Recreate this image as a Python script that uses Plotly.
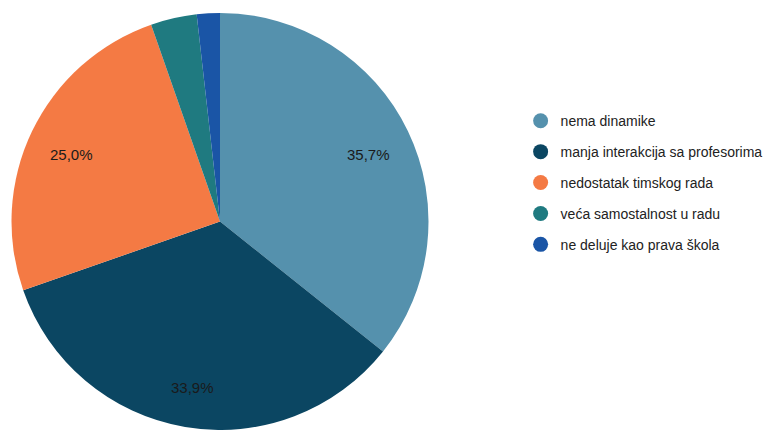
import math
import plotly.graph_objects as go

categories = ["nema dinamike", "manja interakcija sa profesorima", "nedostatak timskog rada",
              "veća samostalnost u radu", "ne deluje kao prava škola"]
values = [20, 19, 14, 2, 1]
colors = ["#5591AD", "#0B4662", "#F47A44", "#1F7A80", "#1A55A6"]
show_label = [True, True, True, False, False]

W, H = 769, 430
MT = 13
plot_h = H - MT
cx_px = 220.0
R = plot_h / 2.0

fig = go.Figure()
fig.add_trace(go.Pie(
    labels=categories, values=values, sort=False, direction="clockwise", rotation=0,
    marker=dict(colors=colors, line=dict(width=0)),
    textinfo="none",
    showlegend=False, hoverinfo="label+percent",
    domain=dict(x=[(cx_px - R) / W, (cx_px + R) / W], y=[0, 1]),
))
for name, col in zip(categories, colors):
    fig.add_trace(go.Scatter(x=[None], y=[None], mode="markers", name=name, legendgroup=name,
                             marker=dict(symbol="circle", size=15, color=col)))

# percentage labels placed along each slice's bisector
total = sum(values)
annotations = []
cum = 0.0
for v, show in zip(values, show_label):
    frac = v / total
    mid = (cum + frac / 2) * 2 * math.pi
    cum += frac
    if not show:
        continue
    r = 0.79 * R
    xp = (cx_px + r * math.sin(mid)) / W
    yp = 0.5 + r * math.cos(mid) / plot_h
    annotations.append(dict(x=xp, y=yp, xref="paper", yref="paper", showarrow=False,
                            xanchor="center", yanchor="middle", yshift=-4,
                            text=f"{frac * 100:.1f}%".replace(".", ","),
                            font=dict(family="Liberation Sans, Arial, sans-serif", size=15, color="#1a1a1a")))

fig.update_layout(
    width=W, height=H, margin=dict(l=0, r=0, t=MT, b=0),
    paper_bgcolor="white", plot_bgcolor="white",
    xaxis=dict(visible=False), yaxis=dict(visible=False),
    annotations=annotations,
    legend=dict(x=0.677, y=0.779, xanchor="left", yanchor="top",
                font=dict(family="Liberation Sans, Arial, sans-serif", size=14, color="#222"),
                itemwidth=30, tracegroupgap=9.7),
)
fig.write_html("out.html", config={"displayModeBar": False},
               post_script="document.body.style.margin='0';")
